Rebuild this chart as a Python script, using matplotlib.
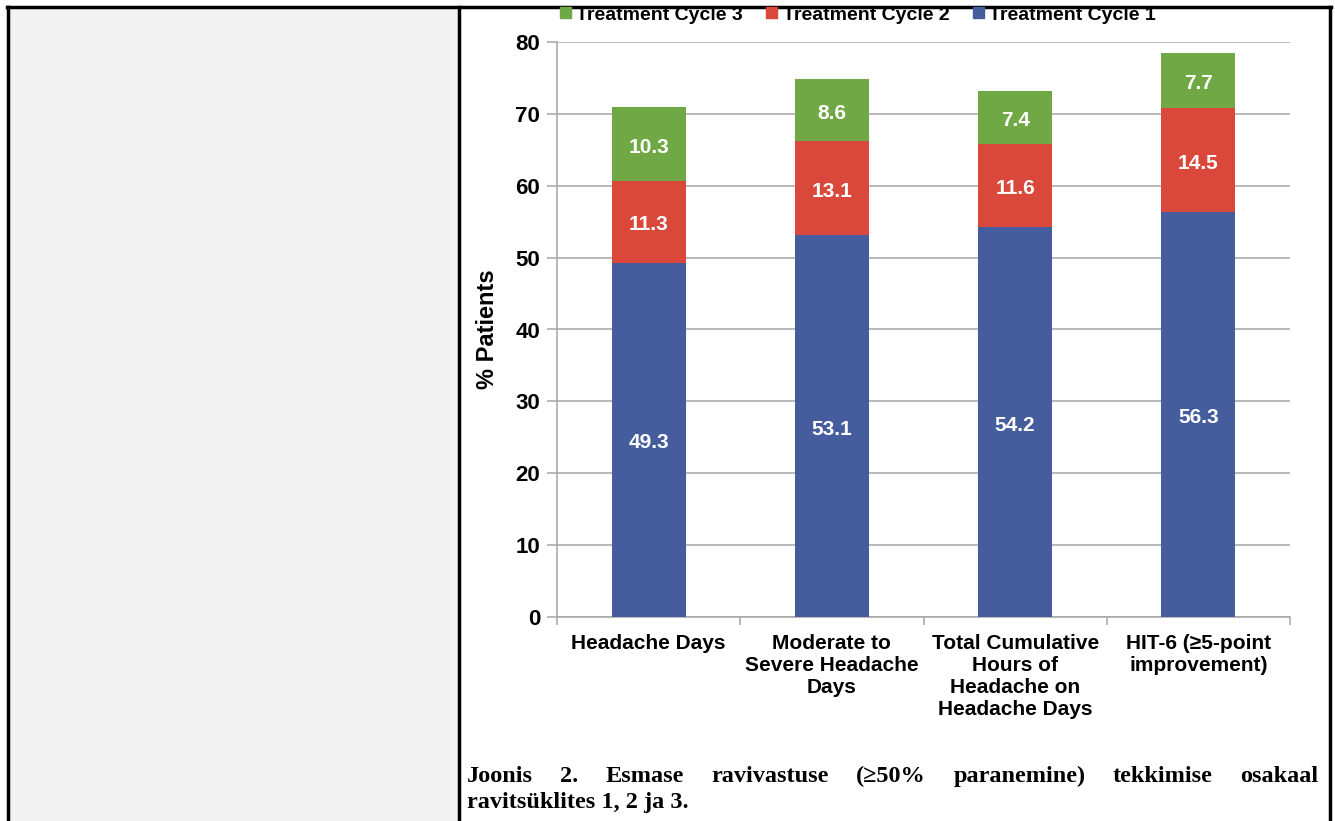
import matplotlib
matplotlib.use("Agg")
from matplotlib import pyplot as plt
from matplotlib.lines import Line2D
from matplotlib.patches import Rectangle
import numpy as np

categories = ["Headache Days", "Moderate to\nSevere Headache\nDays",
              "Total Cumulative\nHours of\nHeadache on\nHeadache Days",
              "HIT-6 (\u22655-point\nimprovement)"]
cycle1 = [49.3, 53.1, 54.2, 56.3]
cycle2 = [11.3, 13.1, 11.6, 14.5]
cycle3 = [10.3, 8.6, 7.4, 7.7]
series_names = ["Treatment Cycle 1", "Treatment Cycle 2", "Treatment Cycle 3"]
y_ticks = [0, 10, 20, 30, 40, 50, 60, 70, 80]
caption_line1 = "Joonis 2. Esmase ravivastuse (\u226550% paranemine) tekkimise osakaal"
caption_line2 = "ravits\u00fcklites 1, 2 ja 3."

colors = ["#455d9d", "#da483c", "#70a846"]
sans = ["Liberation Sans", "DejaVu Sans"]
serif = ["Liberation Serif", "DejaVu Serif"]

W, H = 1335, 821
fig = plt.figure(figsize=(W / 100, H / 100), dpi=100)

# table cells / borders
fig.patches.append(Rectangle((8 / W, 0), (458 - 8) / W, 1 - 8 / H,
                             transform=fig.transFigure, facecolor="#f2f2f2",
                             edgecolor="none", zorder=0))
for xs, ys, lw in [([7, 1331], [7, 7], 2.5), ([8, 8], [7, 821], 2.5),
                   ([459, 459], [7, 821], 2.5), ([1330, 1330], [7, 821], 2.5)]:
    fig.add_artist(Line2D([x / W for x in xs], [1 - y / H for y in ys],
                          color="black", lw=lw, transform=fig.transFigure, zorder=1))

ax = fig.add_axes([557 / W, 1 - 617 / H, (1290 - 557) / W, (617 - 42) / H])
x = np.arange(len(categories))
width = 0.405
bottoms = np.zeros(len(categories))
for vals, c in zip([cycle1, cycle2, cycle3], colors):
    ax.bar(x, vals, width, bottom=bottoms, color=c, zorder=3)
    for xi, v, bt in zip(x, vals, bottoms):
        ax.text(xi, bt + v / 2 - 0.4, f"{v:.1f}", ha="center", va="center",
                color="white", fontsize=15, fontweight="bold", family=sans, zorder=4)
    bottoms = bottoms + np.array(vals)

ax.set_xlim(-0.5, len(categories) - 0.5)
ax.set_ylim(0, 80)
ax.set_yticks(y_ticks)
ax.set_yticklabels([str(t) for t in y_ticks], fontsize=16, fontweight="bold", family=sans)
ax.yaxis.grid(True, color="#a6a6a6", lw=1.1, zorder=0)
ax.set_xticks(np.arange(len(categories) + 1) - 0.5)
ax.set_xticklabels([])
ax.set_xticks(x, minor=True)
ax.set_xticklabels(categories, minor=True, fontsize=15, fontweight="bold",
                   family=sans, linespacing=1.2, va="top")
ax.tick_params(axis="x", which="minor", length=0, pad=12)
ax.tick_params(axis="x", which="major", length=6, color="#a6a6a6", width=1.1)
ax.tick_params(axis="y", length=7, color="#a6a6a6", width=1.1, pad=5)
for s in ["top", "right"]:
    ax.spines[s].set_visible(False)
for s in ["left", "bottom"]:
    ax.spines[s].set_color("#a6a6a6")
    ax.spines[s].set_linewidth(1.1)
ax.set_ylabel("% Patients", fontsize=17, fontweight="bold", family=sans, labelpad=12)

handles = [Rectangle((0, 0), 1, 1, color=colors[i]) for i in [2, 1, 0]]
labels = [series_names[i] for i in [2, 1, 0]]
leg = fig.legend(handles, labels, loc="center", bbox_to_anchor=(858 / W, 1 - 15 / H),
                 ncol=3, frameon=False, handlelength=0.55, handleheight=0.55,
                 handletextpad=0.3, columnspacing=1.2, borderpad=0,
                 prop={"family": sans, "weight": "bold", "size": 14})
leg.set_zorder(10)

# caption, first line justified
left_px, right_px = 467, 1318
cap_size = 17.5
fig.canvas.draw()
renderer = fig.canvas.get_renderer()
words = caption_line1.split(" ")
texts = []
for w in words:
    t = fig.text(0, 1 - 776 / H, w, fontsize=cap_size, fontweight="bold", family=serif,
                 va="center", ha="left")
    texts.append(t)
widths = [t.get_window_extent(renderer).width for t in texts]
gap = (right_px - left_px - sum(widths)) / (len(words) - 1)
pos = left_px
for t, wd in zip(texts, widths):
    t.set_x(pos / W)
    pos += wd + gap
fig.text(left_px / W, 1 - 802 / H, caption_line2, fontsize=cap_size, fontweight="bold",
         family=serif, va="center", ha="left")

fig.savefig("out.png", dpi=100)
